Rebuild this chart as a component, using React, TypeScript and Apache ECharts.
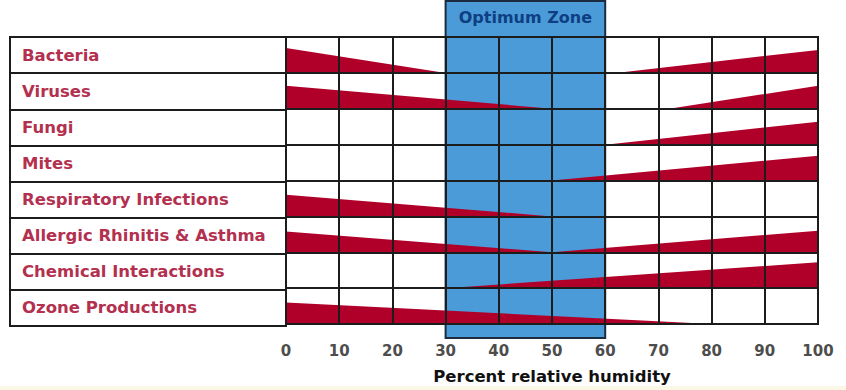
import React, { useEffect, useRef } from "react";
import * as echarts from "echarts";

const categories = [
  "Bacteria",
  "Viruses",
  "Fungi",
  "Mites",
  "Respiratory Infections",
  "Allergic Rhinitis & Asthma",
  "Chemical Interactions",
  "Ozone Productions",
];

// Each wedge: [rowIndex, humidityStart, humidityEnd, heightAtStart, heightAtEnd] (heights as share of the row)
const wedges: number[][] = [
  [0, 0, 30, 0.69, 0],
  [0, 62, 100, 0, 0.64],
  [1, 0, 50, 0.64, 0],
  [1, 72, 100, 0, 0.64],
  [2, 60, 100, 0, 0.64],
  [3, 50, 100, 0, 0.69],
  [4, 0, 50, 0.6, 0],
  [5, 0, 50, 0.58, 0],
  [5, 50, 100, 0, 0.6],
  [6, 30, 100, 0, 0.72],
  [7, 0, 80, 0.6, 0],
];

const optimumZone = [30, 60];
const humidityMin = 0;
const humidityMax = 100;
const humidityStep = 10;

const LINE = "#1c1c1c";
const RED = "#b0002a";
const LABEL_RED = "#b3304f";
const ZONE_BLUE = "#4b9bd8";
const FONT = "DejaVu Sans";

export default function App() {
  const ref = useRef<HTMLDivElement>(null);

  useEffect(() => {
    if (!ref.current) return;
    const chart = echarts.init(ref.current, null, { renderer: "svg" });
    const top = 37;
    const height = 289;

    const option: any = {
      animation: false,
      backgroundColor: "#ffffff",
      grid: [
        { left: 10, top, width: 276, height, show: true, borderColor: LINE, borderWidth: 2, z: 10 },
        { left: 286, top, width: 532, height, show: true, borderColor: LINE, borderWidth: 2, z: 10 },
        { left: 286, top: 1, width: 532, height: 337, show: false },
      ],
      xAxis: [
        { gridIndex: 0, type: "value", min: 0, max: 1, show: false },
        {
          gridIndex: 1,
          type: "value",
          min: humidityMin,
          max: humidityMax,
          interval: humidityStep,
          z: 10,
          axisLine: { show: false },
          axisTick: { show: false },
          splitLine: { show: true, lineStyle: { color: LINE, width: 2 } },
          axisLabel: { margin: 19, color: "#4d4d4d", fontSize: 15, fontWeight: "bold", fontFamily: FONT },
          name: "Percent relative humidity",
          nameLocation: "middle",
          nameGap: 44,
          nameTextStyle: { color: "#111111", fontSize: 16.5, fontWeight: "bold", fontFamily: FONT },
        },
        { gridIndex: 2, type: "value", min: humidityMin, max: humidityMax, show: false },
      ],
      yAxis: [
        {
          gridIndex: 0,
          type: "category",
          data: categories,
          inverse: true,
          z: 10,
          axisLine: { show: false },
          axisTick: { show: false },
          splitLine: { show: true, interval: 0, lineStyle: { color: LINE, width: 2 } },
          axisLabel: {
            inside: true,
            margin: 12,
            align: "left",
            color: LABEL_RED,
            fontSize: 16.5,
            fontWeight: "bold",
            fontFamily: FONT,
            padding: [4, 0, 0, 0],
          },
        },
        {
          gridIndex: 1,
          type: "category",
          data: categories,
          inverse: true,
          z: 10,
          axisLine: { show: false },
          axisTick: { show: false },
          axisLabel: { show: false },
          splitLine: { show: true, interval: 0, lineStyle: { color: LINE, width: 2 } },
        },
        { gridIndex: 2, type: "value", min: 0, max: 1, show: false },
      ],
      series: [
        {
          type: "line",
          xAxisIndex: 2,
          yAxisIndex: 2,
          data: [],
          z: 0,
          silent: true,
          markArea: {
            silent: true,
            itemStyle: { color: ZONE_BLUE, borderColor: "#1b2b40", borderWidth: 2 },
            label: {
              show: true,
              position: "insideTop",
              distance: 9,
              color: "#0d3f82",
              fontSize: 16,
              fontWeight: "bold",
              fontFamily: FONT,
            },
            data: [[{ xAxis: optimumZone[0], name: "Optimum Zone" }, { xAxis: optimumZone[1] }]],
          },
        },
        {
          type: "custom",
          xAxisIndex: 1,
          yAxisIndex: 1,
          z: 2,
          silent: true,
          data: wedges,
          encode: { x: [1, 2], y: 0 },
          renderItem: (params: any, api: any) => {
            const row = api.value(0);
            const x0 = api.value(1);
            const x1 = api.value(2);
            const h0 = api.value(3);
            const h1 = api.value(4);
            const band = api.size([0, 1])[1];
            const p0 = api.coord([x0, row]);
            const p1 = api.coord([x1, row]);
            const bottom = p0[1] + band / 2;
            const points = [
              [p0[0], bottom],
              [p1[0], bottom],
              [p1[0], bottom - h1 * band],
              [p0[0], bottom - h0 * band],
            ];
            return {
              type: "polygon",
              shape: { points },
              style: { fill: RED, stroke: null },
            };
          },
        },
      ],
      graphic: [
        {
          type: "rect",
          shape: { x: 0, y: 386, width: 846, height: 4 },
          style: { fill: "#fbf8e6" },
          silent: true,
        },
      ],
    };

    chart.setOption(option);
    return () => chart.dispose();
  }, []);

  return (
    <div
      ref={ref}
      style={{ position: "fixed", left: 0, top: 0, width: 846, height: 390 }}
    />
  );
}
